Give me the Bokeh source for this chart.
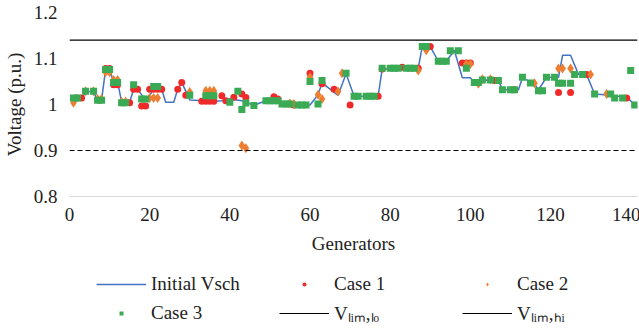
from bokeh.plotting import figure
from bokeh.layouts import column
from bokeh.models import Span, Legend, LegendItem, FixedTicker, CustomJSTickFormatter, Range1d
from bokeh.embed import file_html
from bokeh.resources import INLINE

# Initial scheduled voltage (line)
vsch_gen = [1, 3, 4, 6, 7, 8, 9, 10, 11, 12, 13, 15, 16, 17, 19, 20, 21, 23, 24, 26,
            27, 28, 30, 36, 38, 40, 43, 46, 48, 49, 52, 53, 55, 59, 60, 62, 63, 67, 69, 71,
            77, 78, 87, 88, 90, 92, 94, 96, 98, 100, 101, 104, 107, 108, 112, 113, 116, 117, 119, 122,
            123, 125, 127, 129, 131, 135, 139, 141]
vsch_val = [1.009, 1.012, 1.028, 1.028, 1.009, 1.010, 1.076, 1.076, 1.049, 1.049,
            1.005, 1.005, 1.033, 1.033, 1.009, 1.020, 1.033, 1.033, 1.005, 1.005,
            1.033, 1.048, 1.010, 1.007, 1.008, 1.012, 1.008, 0.998, 1.005, 1.009,
            1.009, 1.002, 1.000, 0.999, 0.999, 1.021, 1.047, 1.020, 1.067, 1.018,
            1.018, 1.077, 1.079, 1.126, 1.126, 1.094, 1.094, 1.118, 1.058, 1.058,
            1.048, 1.053, 1.052, 1.032, 1.032, 1.058, 1.045, 1.032, 1.059, 1.059,
            1.107, 1.107, 1.065, 1.065, 1.023, 1.020, 1.016, 1.000]

# Case 1
c1_gen = [2, 3, 9, 10, 11, 12, 15, 16, 17, 18, 19, 20, 21, 22, 23, 27, 28, 29, 33, 34,
          35, 36, 38, 39, 41, 43, 44, 51, 52, 56, 60, 63, 66, 70, 77, 78, 83, 87, 90, 98,
          99, 100, 106, 111, 122, 125, 129, 139]
c1_val = [1.014, 1.014, 1.078, 1.078, 1.043, 1.043, 1.004, 1.033, 1.033, 0.997,
          0.997, 1.033, 1.033, 1.033, 1.033, 1.033, 1.048, 1.020, 1.007, 1.007,
          1.007, 1.007, 1.019, 1.008, 1.016, 1.023, 1.015, 1.017, 1.012, 0.999,
          1.068, 1.045, 1.033, 0.999, 1.018, 1.077, 1.081, 1.079, 1.126, 1.090,
          1.090, 1.090, 1.052, 1.032, 1.026, 1.026, 1.065, 1.014]

# Case 2
c2_gen = [1, 4, 6, 7, 8, 9, 10, 11, 12, 13, 14, 20, 21, 22, 30, 34, 35, 36, 43, 44,
          55, 56, 60, 62, 63, 67, 68, 87, 89, 99, 100, 102, 103, 105, 116, 122, 123, 125, 130, 134]
c2_val = [1.004, 1.029, 1.029, 1.012, 1.012, 1.070, 1.070, 1.053, 1.053, 1.006,
          1.006, 1.014, 1.014, 1.014, 1.027, 1.030, 1.030, 1.030, 0.911, 0.905,
          1.002, 1.001, 1.059, 1.021, 1.012, 1.028, 1.068, 1.074, 1.118, 1.088,
          1.088, 1.045, 1.055, 1.055, 1.046, 1.078, 1.078, 1.078, 1.065, 1.023]

# Case 3
c3_gen = [1, 2, 4, 6, 7, 8, 9, 10, 11, 12, 13, 14, 16, 18, 19, 21, 22, 30, 34, 35,
          36, 40, 42, 43, 44, 46, 49, 50, 51, 52, 53, 54, 55, 57, 58, 59, 60, 62, 63, 69,
          71, 72, 74, 75, 76, 78, 80, 81, 82, 84, 85, 86, 88, 89, 92, 93, 94, 95, 97, 99,
          101, 102, 103, 105, 107, 108, 110, 111, 113, 115, 117, 118, 119, 121, 122, 123, 125, 126, 128, 131,
          135, 136, 138, 140, 141]
c3_val = [1.014, 1.014, 1.029, 1.029, 1.009, 1.009, 1.076, 1.076, 1.048, 1.048,
          1.004, 1.004, 1.043, 1.012, 1.012, 1.039, 1.039, 1.020, 1.019, 1.019,
          1.019, 1.005, 1.029, 0.989, 1.003, 0.998, 1.008, 1.008, 1.008, 1.008,
          1.001, 1.001, 1.001, 0.999, 0.999, 0.999, 1.050, 1.001, 1.052, 1.068,
          1.018, 1.018, 1.018, 1.018, 1.018, 1.079, 1.079, 1.079, 1.079, 1.079,
          1.079, 1.079, 1.126, 1.126, 1.094, 1.094, 1.094, 1.117, 1.117, 1.079,
          1.048, 1.048, 1.053, 1.053, 1.052, 1.032, 1.032, 1.032, 1.059, 1.047,
          1.030, 1.030, 1.059, 1.059, 1.046, 1.046, 1.046, 1.065, 1.065, 1.023,
          1.023, 1.014, 1.014, 1.074, 0.999]

v_lim_lo = 0.90
v_lim_hi = 1.14

x_min, x_max = 0, 141.7
y_min, y_max = 0.8, 1.2
x_ticks = [0, 20, 40, 60, 80, 100, 120, 140]
y_ticks = [0.8, 0.9, 1.0, 1.1, 1.2]

FONT = "Liberation Serif"
C_LINE, C1, C2, C3 = "#4472C4", "#F02A2A", "#ED7D31", "#3AAA55"


def draw_series(fig, s_circle, s_diamond, s_square):
    rl = fig.line(vsch_gen, vsch_val, line_color=C_LINE, line_width=1.5)
    r1 = fig.scatter(c1_gen, c1_val, marker="circle", size=s_circle, fill_color=C1, line_color=None)
    r2 = fig.scatter(c2_gen, c2_val, marker="diamond", size=s_diamond, fill_color=C2, line_color=None)
    r3 = fig.scatter(c3_gen, c3_val, marker="square", size=s_square, fill_color=C3, line_color=None)
    return rl, r1, r2, r3


# ---------------- main chart ----------------
p = figure(frame_width=568, frame_height=184, x_range=Range1d(x_min, x_max), y_range=Range1d(y_min, y_max),
           output_backend="svg", toolbar_location=None,
           min_border_left=68, min_border_right=3, min_border_top=12, min_border_bottom=58)
p.outline_line_color = None
p.xgrid.visible = False
p.ygrid.visible = False

draw_series(p, 7, 10, 7)
p.add_layout(Span(location=v_lim_lo, dimension="width", line_color="black", line_width=1.2, line_dash="5 3"))
p.add_layout(Span(location=v_lim_hi, dimension="width", line_color="black", line_width=1.2))

p.xaxis.ticker = FixedTicker(ticks=x_ticks)
p.yaxis.ticker = FixedTicker(ticks=y_ticks)
p.yaxis.formatter = CustomJSTickFormatter(code="return (Math.round(tick*10)/10).toString();")
for ax in (p.xaxis[0], p.yaxis[0]):
    ax.major_tick_line_color = None
    ax.minor_tick_line_color = None
    ax.major_label_text_font = FONT
    ax.major_label_text_font_size = "19px"
    ax.major_label_text_color = "#222222"
    ax.axis_label_text_font = FONT
    ax.axis_label_text_font_size = "19px"
    ax.axis_label_text_font_style = "normal"
    ax.axis_label_text_color = "#222222"
p.xaxis.axis_line_color = "#D9D9D9"
p.yaxis.axis_line_color = None
p.xaxis.axis_label = "Generators"
p.yaxis.axis_label = "Voltage (p.u.)"
p.xaxis.major_label_standoff = 5
p.xaxis.axis_label_standoff = 9
p.yaxis.major_label_standoff = 6
p.yaxis.axis_label_standoff = 6

# ---------------- legend strip ----------------
lg = figure(width=639, height=74, x_range=Range1d(x_min, x_max), y_range=Range1d(5, 6),
            output_backend="svg", toolbar_location=None, min_border=0,
            x_axis_location=None, y_axis_location=None)
lg.outline_line_color = None
lg.xgrid.visible = False
lg.ygrid.visible = False
rl, r1, r2, r3 = draw_series(lg, 4, 6, 4)  # data sits outside this strip's range: only the legend shows
r_lo = lg.line([x_min, x_max], [v_lim_lo, v_lim_lo], line_color="black", line_width=1.2)
r_hi = lg.line([x_min, x_max], [v_lim_hi, v_lim_hi], line_color="black", line_width=1.2)

legend = Legend(items=[
    LegendItem(label="Initial Vsch", renderers=[rl]),
    LegendItem(label="Case 1", renderers=[r1]),
    LegendItem(label="Case 2", renderers=[r2]),
    LegendItem(label="Case 3", renderers=[r3]),
    LegendItem(label="V\u2097\u1d62\u2098,\u2097\u2092", renderers=[r_lo]),
    LegendItem(label="V\u2097\u1d62\u2098,\u2095\u1d62", renderers=[r_hi]),
], orientation="horizontal", ncols=3, location=(27, 3),
   glyph_width=50, glyph_height=10, label_width=128, label_height=29,
   label_standoff=5, spacing=0, padding=0, margin=0,
   label_text_font=FONT, label_text_font_size="19px", label_text_color="#222222",
   border_line_color=None, background_fill_alpha=0)
lg.add_layout(legend, "center")

open("out.html", "w").write(file_html(column(p, lg), INLINE))
